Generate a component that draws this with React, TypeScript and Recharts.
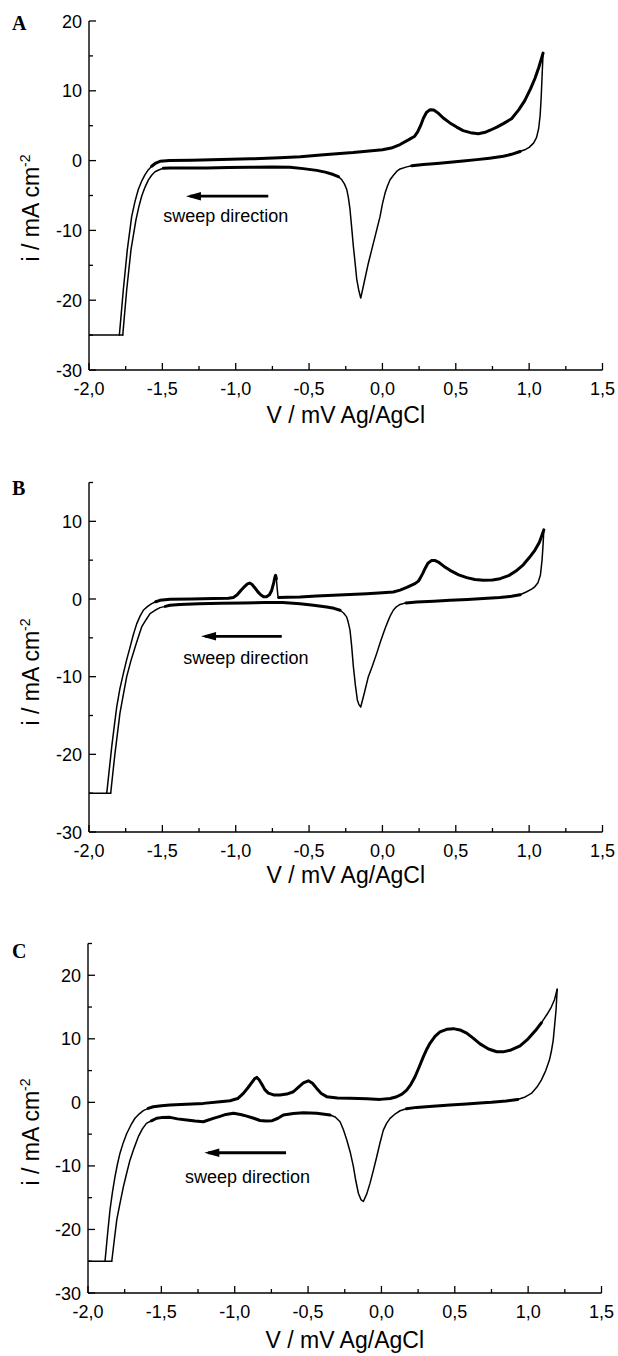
import React from 'react';
import { LineChart, Line, XAxis, YAxis } from 'recharts';

type Pt = [number, number];

// ---------- tick values & texts ----------
const xTicks: number[] = [-2, -1.75, -1.5, -1.25, -1, -0.75, -0.5, -0.25, 0, 0.25, 0.5, 0.75, 1, 1.25, 1.5];
const yTicksA: number[] = [-30, -25, -20, -15, -10, -5, 0, 5, 10, 15, 20];
const yTicksB: number[] = [-30, -25, -20, -15, -10, -5, 0, 5, 10, 15];
const yTicksC: number[] = [-30, -25, -20, -15, -10, -5, 0, 5, 10, 15, 20, 25];

const xTitle = 'V / mV Ag/AgCl';
const yTitle = 'i / mA cm';
const yTitleSup = '-2';
const sweepLabel = 'sweep direction';

// ---------- Panel A data (V, i) ----------
const aLimit: Pt[] = [[-2.0, -25], [-1.77, -25]];
const aForward: Pt[] = [
  [-1.793, -25.0], [-1.766, -18.5], [-1.739, -12.8], [-1.709, -8.0], [-1.686, -5.8], [-1.664, -4.15],
  [-1.64, -2.9], [-1.618, -2.0], [-1.595, -1.3], [-1.573, -0.8], [-1.545, -0.35], [-1.516, -0.1],
  [-1.45, 0.0], [-1.3, 0.05], [-1.1, 0.15], [-0.9, 0.25], [-0.7, 0.4], [-0.56, 0.55], [-0.4, 0.85],
  [-0.2, 1.15], [0.0, 1.55], [0.06, 1.8], [0.12, 2.3], [0.18, 3.0], [0.22, 3.5], [0.24, 4.1],
  [0.26, 5.0], [0.28, 6.1], [0.3, 6.9], [0.325, 7.3], [0.35, 7.25], [0.38, 6.8], [0.415, 6.1],
  [0.46, 5.4], [0.506, 4.8], [0.55, 4.3], [0.6, 4.0], [0.654, 3.85], [0.7, 4.05], [0.734, 4.35],
  [0.78, 4.8], [0.824, 5.3], [0.88, 6.0], [0.93, 7.3], [0.97, 8.6], [1.01, 10.3], [1.04, 11.8],
  [1.065, 13.3], [1.095, 15.4],
];
const aReverse: Pt[] = [
  [1.095, 15.4], [1.088, 12.0], [1.082, 9.0], [1.075, 6.5], [1.065, 4.6], [1.05, 3.3], [1.03, 2.5],
  [1.0, 1.9], [0.97, 1.55], [0.938, 1.3], [0.88, 0.9], [0.824, 0.62], [0.73, 0.35], [0.643, 0.14],
  [0.55, -0.05], [0.461, -0.24], [0.37, -0.4], [0.279, -0.57], [0.2, -0.75], [0.166, -0.9],
  [0.12, -1.2], [0.097, -1.55], [0.075, -2.1], [0.052, -2.75], [0.035, -3.6], [0.018, -4.65],
  [0.0, -6.2], [-0.016, -8.0], [-0.05, -10.85], [-0.096, -14.7], [-0.125, -17.5], [-0.148, -19.7],
  [-0.162, -18.5], [-0.175, -17.0], [-0.187, -14.5], [-0.198, -12.3], [-0.21, -9.5], [-0.221, -7.0],
  [-0.232, -5.3], [-0.243, -4.15], [-0.26, -3.3], [-0.277, -2.75], [-0.3, -2.3], [-0.335, -2.0],
  [-0.39, -1.65], [-0.448, -1.4], [-0.54, -1.15], [-0.63, -0.95], [-0.75, -0.9], [-0.9, -0.95],
  [-1.05, -1.0], [-1.2, -1.05], [-1.35, -1.05], [-1.45, -1.05], [-1.494, -1.1], [-1.525, -1.35],
  [-1.55, -1.6], [-1.573, -2.1], [-1.596, -2.8], [-1.62, -3.9], [-1.641, -5.1], [-1.66, -6.6],
  [-1.68, -8.5], [-1.714, -12.8], [-1.743, -18.5], [-1.77, -25.0],
];
const aForwardNoisy: Pt[] = [[-1.56, 1.2]];
const aReverseNoisy: Pt[] = [[0.2, 0.95], [-1.5, -0.3]];
const aArrow: Pt[] = [[-1.312, -5.1], [-0.778, -5.1]];
const aLabelAt: Pt = [-1.494, -8.74];

// ---------- Panel B data ----------
const bLimit: Pt[] = [[-2.0, -25], [-1.852, -25]];
const bForward: Pt[] = [
  [-1.879, -25.0], [-1.862, -22.0], [-1.845, -19.0], [-1.828, -16.4], [-1.811, -13.9], [-1.79, -11.6],
  [-1.766, -9.6], [-1.743, -7.8], [-1.72, -6.2], [-1.698, -4.6], [-1.675, -3.2], [-1.652, -2.2],
  [-1.63, -1.45], [-1.6, -0.95], [-1.573, -0.6], [-1.545, -0.35], [-1.516, -0.17], [-1.448, -0.04],
  [-1.3, 0.0], [-1.15, 0.05], [-1.05, 0.1], [-1.016, 0.2], [-0.99, 0.55], [-0.965, 1.1], [-0.94, 1.6],
  [-0.92, 1.95], [-0.905, 2.05], [-0.89, 1.9], [-0.87, 1.45], [-0.85, 0.95], [-0.83, 0.55], [-0.81, 0.3],
  [-0.79, 0.3], [-0.77, 0.55], [-0.755, 1.1], [-0.742, 2.0], [-0.733, 2.8], [-0.728, 3.05], [-0.723, 2.6],
  [-0.718, 1.5], [-0.713, 0.5], [-0.708, 0.2], [-0.65, 0.22], [-0.562, 0.26], [-0.45, 0.38],
  [-0.335, 0.48], [-0.22, 0.58], [-0.107, 0.69], [0.0, 0.82], [0.074, 0.9], [0.12, 1.15], [0.166, 1.5],
  [0.222, 1.98], [0.245, 2.3], [0.256, 2.62], [0.275, 3.3], [0.29, 3.9], [0.31, 4.6], [0.336, 4.97],
  [0.36, 4.95], [0.381, 4.76], [0.42, 4.2], [0.461, 3.69], [0.52, 3.1], [0.575, 2.75], [0.63, 2.5],
  [0.688, 2.4], [0.75, 2.45], [0.802, 2.62], [0.86, 3.0], [0.91, 3.6], [0.96, 4.4], [1.0, 5.3],
  [1.04, 6.3], [1.07, 7.3], [1.1, 8.9],
];
const bReverse: Pt[] = [
  [1.1, 8.9], [1.095, 7.0], [1.088, 5.0], [1.077, 3.1], [1.06, 2.1], [1.04, 1.6], [1.02, 1.3],
  [0.98, 0.9], [0.938, 0.55], [0.88, 0.35], [0.8, 0.2], [0.688, 0.05], [0.58, -0.05], [0.461, -0.17],
  [0.35, -0.28], [0.234, -0.38], [0.16, -0.5], [0.12, -0.7], [0.095, -1.0], [0.074, -1.45],
  [0.055, -2.1], [0.04, -2.75], [0.022, -3.6], [0.006, -4.45], [-0.017, -5.7], [-0.039, -7.0],
  [-0.068, -8.6], [-0.096, -10.0], [-0.122, -12.0], [-0.148, -13.9], [-0.16, -13.6], [-0.171, -13.0],
  [-0.185, -11.0], [-0.198, -8.7], [-0.21, -6.0], [-0.221, -4.0], [-0.233, -3.0], [-0.244, -2.3],
  [-0.265, -1.8], [-0.289, -1.45], [-0.33, -1.2], [-0.38, -1.03], [-0.47, -0.8], [-0.562, -0.6],
  [-0.68, -0.45], [-0.8, -0.45], [-0.95, -0.5], [-1.1, -0.55], [-1.25, -0.62], [-1.38, -0.7],
  [-1.448, -0.81], [-1.48, -0.95], [-1.516, -1.11], [-1.55, -1.45], [-1.584, -1.88], [-1.612, -2.7],
  [-1.641, -3.6], [-1.662, -4.8], [-1.686, -6.2], [-1.715, -8.0], [-1.743, -10.0], [-1.766, -12.3],
  [-1.789, -14.7], [-1.806, -17.3], [-1.823, -19.9], [-1.838, -22.5], [-1.852, -25.0],
];
const bForwardNoisy: Pt[] = [[-1.55, -0.722], [-0.709, 1.2]];
const bReverseNoisy: Pt[] = [[0.16, 0.95], [-1.49, -0.3]];
const bArrow: Pt[] = [[-1.209, -4.8], [-0.686, -4.8]];
const bLabelAt: Pt = [-1.357, -8.4];

// ---------- Panel C data ----------
const cLimit: Pt[] = [[-2.0, -25], [-1.838, -25]];
const cForward: Pt[] = [
  [-1.884, -25.0], [-1.867, -20.8], [-1.85, -16.9], [-1.833, -14.1], [-1.816, -11.7], [-1.799, -9.7],
  [-1.782, -8.0], [-1.759, -6.3], [-1.736, -4.9], [-1.708, -3.6], [-1.68, -2.5], [-1.65, -1.8],
  [-1.623, -1.3], [-1.59, -0.95], [-1.555, -0.69], [-1.5, -0.52], [-1.441, -0.42], [-1.33, -0.3],
  [-1.214, -0.16], [-1.1, 0.1], [-1.032, 0.26], [-0.98, 0.6], [-0.941, 1.42], [-0.91, 2.3],
  [-0.884, 3.1], [-0.865, 3.7], [-0.85, 3.93], [-0.835, 3.6], [-0.816, 2.9], [-0.795, 2.0],
  [-0.771, 1.45], [-0.73, 1.15], [-0.691, 1.15], [-0.645, 1.3], [-0.6, 1.67], [-0.565, 2.4],
  [-0.532, 3.05], [-0.498, 3.4], [-0.47, 3.0], [-0.441, 2.2], [-0.41, 1.4], [-0.373, 0.9], [-0.3, 0.7],
  [-0.214, 0.63], [-0.1, 0.55], [-0.01, 0.47], [0.06, 0.6], [0.104, 0.88], [0.14, 1.3], [0.172, 1.94],
  [0.2, 2.8], [0.229, 4.03], [0.258, 5.6], [0.286, 7.2], [0.31, 8.4], [0.331, 9.3], [0.365, 10.4],
  [0.399, 11.1], [0.445, 11.5], [0.49, 11.6], [0.535, 11.4], [0.581, 10.9], [0.625, 10.1], [0.672, 9.2],
  [0.73, 8.4], [0.786, 7.96], [0.83, 7.95], [0.877, 8.2], [0.945, 8.9], [1.0, 10.0], [1.05, 11.3],
  [1.09, 12.5], [1.13, 13.9], [1.158, 15.0], [1.18, 16.2], [1.198, 17.8],
];
const cReverse: Pt[] = [
  [1.198, 17.8], [1.19, 14.5], [1.18, 12.0], [1.171, 9.8], [1.158, 8.0], [1.145, 6.66], [1.12, 5.0],
  [1.09, 3.5], [1.06, 2.4], [1.022, 1.4], [0.98, 0.85], [0.928, 0.45], [0.85, 0.2], [0.75, 0.0],
  [0.695, -0.06], [0.58, -0.25], [0.468, -0.42], [0.35, -0.6], [0.24, -0.79], [0.17, -1.0],
  [0.127, -1.32], [0.095, -1.8], [0.059, -2.52], [0.035, -3.3], [0.013, -4.36], [-0.01, -6.4],
  [-0.032, -8.56], [-0.055, -10.7], [-0.078, -12.75], [-0.1, -14.4], [-0.123, -15.6], [-0.14, -15.3],
  [-0.157, -14.3], [-0.175, -12.3], [-0.191, -10.1], [-0.213, -7.8], [-0.236, -5.93], [-0.259, -4.3],
  [-0.282, -3.05], [-0.315, -2.3], [-0.35, -2.0], [-0.441, -1.73], [-0.532, -1.64], [-0.6, -1.75],
  [-0.669, -2.0], [-0.705, -2.5], [-0.744, -2.89], [-0.786, -2.95], [-0.828, -2.85], [-0.87, -2.5],
  [-0.918, -2.16], [-0.96, -1.9], [-1.009, -1.73], [-1.06, -1.9], [-1.1, -2.2], [-1.146, -2.52],
  [-1.214, -3.05], [-1.27, -2.95], [-1.327, -2.79], [-1.39, -2.6], [-1.441, -2.36], [-1.5, -2.4],
  [-1.532, -2.5], [-1.568, -2.9], [-1.602, -3.3], [-1.63, -4.2], [-1.657, -5.4], [-1.686, -7.2],
  [-1.714, -9.1], [-1.737, -11.2], [-1.759, -13.3], [-1.782, -15.9], [-1.804, -18.5], [-1.821, -21.7],
  [-1.838, -25.0],
];
const cForwardNoisy: Pt[] = [[-1.6, 1.1]];
const cReverseNoisy: Pt[] = [[0.2, 0.95], [-1.55, -0.34]];
const cArrow: Pt[] = [[-1.18, -7.93], [-0.65, -7.93]];
const cLabelAt: Pt = [-1.339, -12.75];

// ---------- helpers ----------
const SANS = '"Liberation Sans", Arial, Helvetica, sans-serif';
const SERIF = '"Liberation Serif", "Times New Roman", serif';

const toRows = (pts: Pt[]) => pts.map(([v, i]) => ({ v, i }));

function splitSegments(pts: Pt[], ranges: Pt[]) {
  const inRange = (v: number) => ranges.some(([a, b]) => v >= Math.min(a, b) && v <= Math.max(a, b));
  const segs: { pts: Pt[]; noisy: boolean }[] = [];
  let cur: Pt[] = [pts[0]];
  let flag: boolean | null = null;
  for (let k = 1; k < pts.length; k++) {
    const f = inRange((pts[k - 1][0] + pts[k][0]) / 2);
    if (flag === null) flag = f;
    if (f !== flag) {
      segs.push({ pts: cur, noisy: flag });
      cur = [pts[k - 1]];
      flag = f;
    }
    cur.push(pts[k]);
  }
  segs.push({ pts: cur, noisy: !!flag });
  return segs;
}

const isMajorX = (v: number) => Math.abs(v * 2 - Math.round(v * 2)) < 1e-6;
const fmtX = (v: number) => v.toFixed(1).replace('.', ',');

const XTick = (props: any) => {
  const { x, y, payload } = props;
  const v = payload.value as number;
  const major = isMajorX(v);
  return (
    <g>
      <line x1={x} x2={x} y1={y} y2={y - (major ? 7 : 4)} stroke="#000" strokeWidth={1.3} />
      {major && (
        <text x={x} y={y + 24.5} textAnchor="middle" fontSize={18} fontFamily={SANS} fill="#000">
          {fmtX(v)}
        </text>
      )}
    </g>
  );
};

const YTick = (props: any) => {
  const { x, y, payload } = props;
  const v = payload.value as number;
  const major = Math.abs(v % 10) < 1e-6;
  return (
    <g>
      <line x1={x} x2={x + (major ? 7 : 4)} y1={y} y2={y} stroke="#000" strokeWidth={1.3} />
      {major && (
        <text x={x - 7} y={y + 6.5} textAnchor="end" fontSize={18} fontFamily={SANS} fill="#000">
          {String(v)}
        </text>
      )}
    </g>
  );
};

interface PanelProps {
  top: number;
  height: number;
  margin: { top: number; right: number; bottom: number; left: number };
  yDomain: [number, number];
  yTicks: number[];
  limit: Pt[];
  forward: Pt[];
  reverse: Pt[];
  fNoisy: Pt[];
  rNoisy: Pt[];
  arrow: Pt[];
  labelAt: Pt;
  letter: string;
  letterY: number;
  yTitleY: number;
  xTitleY: number;
}

const Panel = (p: PanelProps) => {
  const segs = [
    { pts: p.limit, noisy: false },
    ...splitSegments(p.forward, p.fNoisy),
    ...splitSegments(p.reverse, p.rNoisy),
  ];
  const plotCx = p.margin.left + 60 + (618 - p.margin.left - 60 - p.margin.right) / 2;
  return (
    <div style={{ position: 'absolute', left: 0, top: p.top, width: 618, height: p.height }}>
      <LineChart width={618} height={p.height} margin={p.margin}>
        <XAxis
          type="number"
          dataKey="v"
          domain={[-2, 1.5]}
          ticks={xTicks}
          interval={0}
          allowDataOverflow
          height={60}
          tickSize={0}
          tickMargin={0}
          tickLine={false}
          axisLine={{ stroke: '#000', strokeWidth: 1.4 }}
          tick={(tp: any) => <XTick {...tp} />}
          label={() => (
            <text x={plotCx} y={p.xTitleY} textAnchor="middle" fontSize={23} fontFamily={SANS} fill="#000">
              {xTitle}
            </text>
          )}
        />
        <YAxis
          type="number"
          dataKey="i"
          domain={p.yDomain}
          ticks={p.yTicks}
          interval={0}
          allowDataOverflow
          width={60}
          tickSize={0}
          tickMargin={0}
          tickLine={false}
          axisLine={{ stroke: '#000', strokeWidth: 1.4 }}
          tick={(tp: any) => <YTick {...tp} />}
          label={() => (
            <g>
              <text x={12} y={p.letterY} fontSize={20} fontWeight="bold" fontFamily={SERIF} fill="#000">
                {p.letter}
              </text>
              <text
                transform={`translate(39,${p.yTitleY}) rotate(-90)`}
                textAnchor="middle"
                fontSize={23}
                fontFamily={SANS}
                fill="#000"
              >
                {yTitle}
                <tspan dy={-9} fontSize={14}>
                  {yTitleSup}
                </tspan>
              </text>
            </g>
          )}
        />
        {segs.map((s, k) => (
          <Line
            key={`seg-${k}`}
            data={toRows(s.pts)}
            dataKey="i"
            type="linear"
            stroke="#000"
            strokeWidth={s.noisy ? 3 : 1.5}
            strokeLinejoin="round"
            strokeLinecap="round"
            dot={false}
            activeDot={false}
            legendType="none"
            isAnimationActive={false}
          />
        ))}
        <Line
          data={toRows(p.arrow)}
          dataKey="i"
          type="linear"
          stroke="#000"
          strokeWidth={2.8}
          activeDot={false}
          legendType="none"
          isAnimationActive={false}
          dot={(dp: any) =>
            dp.index === 0 ? (
              <polygon
                key={`ah-${dp.index}`}
                points={`${dp.cx - 4},${dp.cy} ${dp.cx + 11},${dp.cy - 4.2} ${dp.cx + 11},${dp.cy + 4.2}`}
                fill="#000"
              />
            ) : (
              <g key={`ah-${dp.index}`} />
            )
          }
        />
        <Line
          data={toRows([p.labelAt])}
          dataKey="i"
          type="linear"
          stroke="none"
          activeDot={false}
          legendType="none"
          isAnimationActive={false}
          dot={(dp: any) => (
            <text key={`lbl-${dp.index}`} x={dp.cx} y={dp.cy} fontSize={18} fontFamily={SANS} fill="#000">
              {sweepLabel}
            </text>
          )}
        />
      </LineChart>
    </div>
  );
};

export default function App() {
  return (
    <div
      style={{
        position: 'absolute',
        left: 0,
        top: 0,
        width: 618,
        height: 1356,
        background: '#fff',
        overflow: 'hidden',
      }}
    >
      <Panel
        top={0}
        height={460}
        margin={{ top: 21, right: 15.5, bottom: 30, left: 29 }}
        yDomain={[-30, 20]}
        yTicks={yTicksA}
        limit={aLimit}
        forward={aForward}
        reverse={aReverse}
        fNoisy={aForwardNoisy}
        rNoisy={aReverseNoisy}
        arrow={aArrow}
        labelAt={aLabelAt}
        letter="A"
        letterY={30}
        yTitleY={208}
        xTitleY={423}
      />
      <Panel
        top={460}
        height={450}
        margin={{ top: 22.5, right: 15.5, bottom: 18, left: 29 }}
        yDomain={[-30, 15]}
        yTicks={yTicksB}
        limit={bLimit}
        forward={bForward}
        reverse={bReverse}
        fNoisy={bForwardNoisy}
        rNoisy={bReverseNoisy}
        arrow={bArrow}
        labelAt={bLabelAt}
        letter="B"
        letterY={35}
        yTitleY={212}
        xTitleY={423}
      />
      <Panel
        top={910}
        height={446}
        margin={{ top: 33.5, right: 16.5, bottom: 3, left: 28 }}
        yDomain={[-30, 25]}
        yTicks={yTicksC}
        limit={cLimit}
        forward={cForward}
        reverse={cReverse}
        fNoisy={cForwardNoisy}
        rNoisy={cReverseNoisy}
        arrow={cArrow}
        labelAt={cLabelAt}
        letter="C"
        letterY={48}
        yTitleY={222}
        xTitleY={438}
      />
    </div>
  );
}
